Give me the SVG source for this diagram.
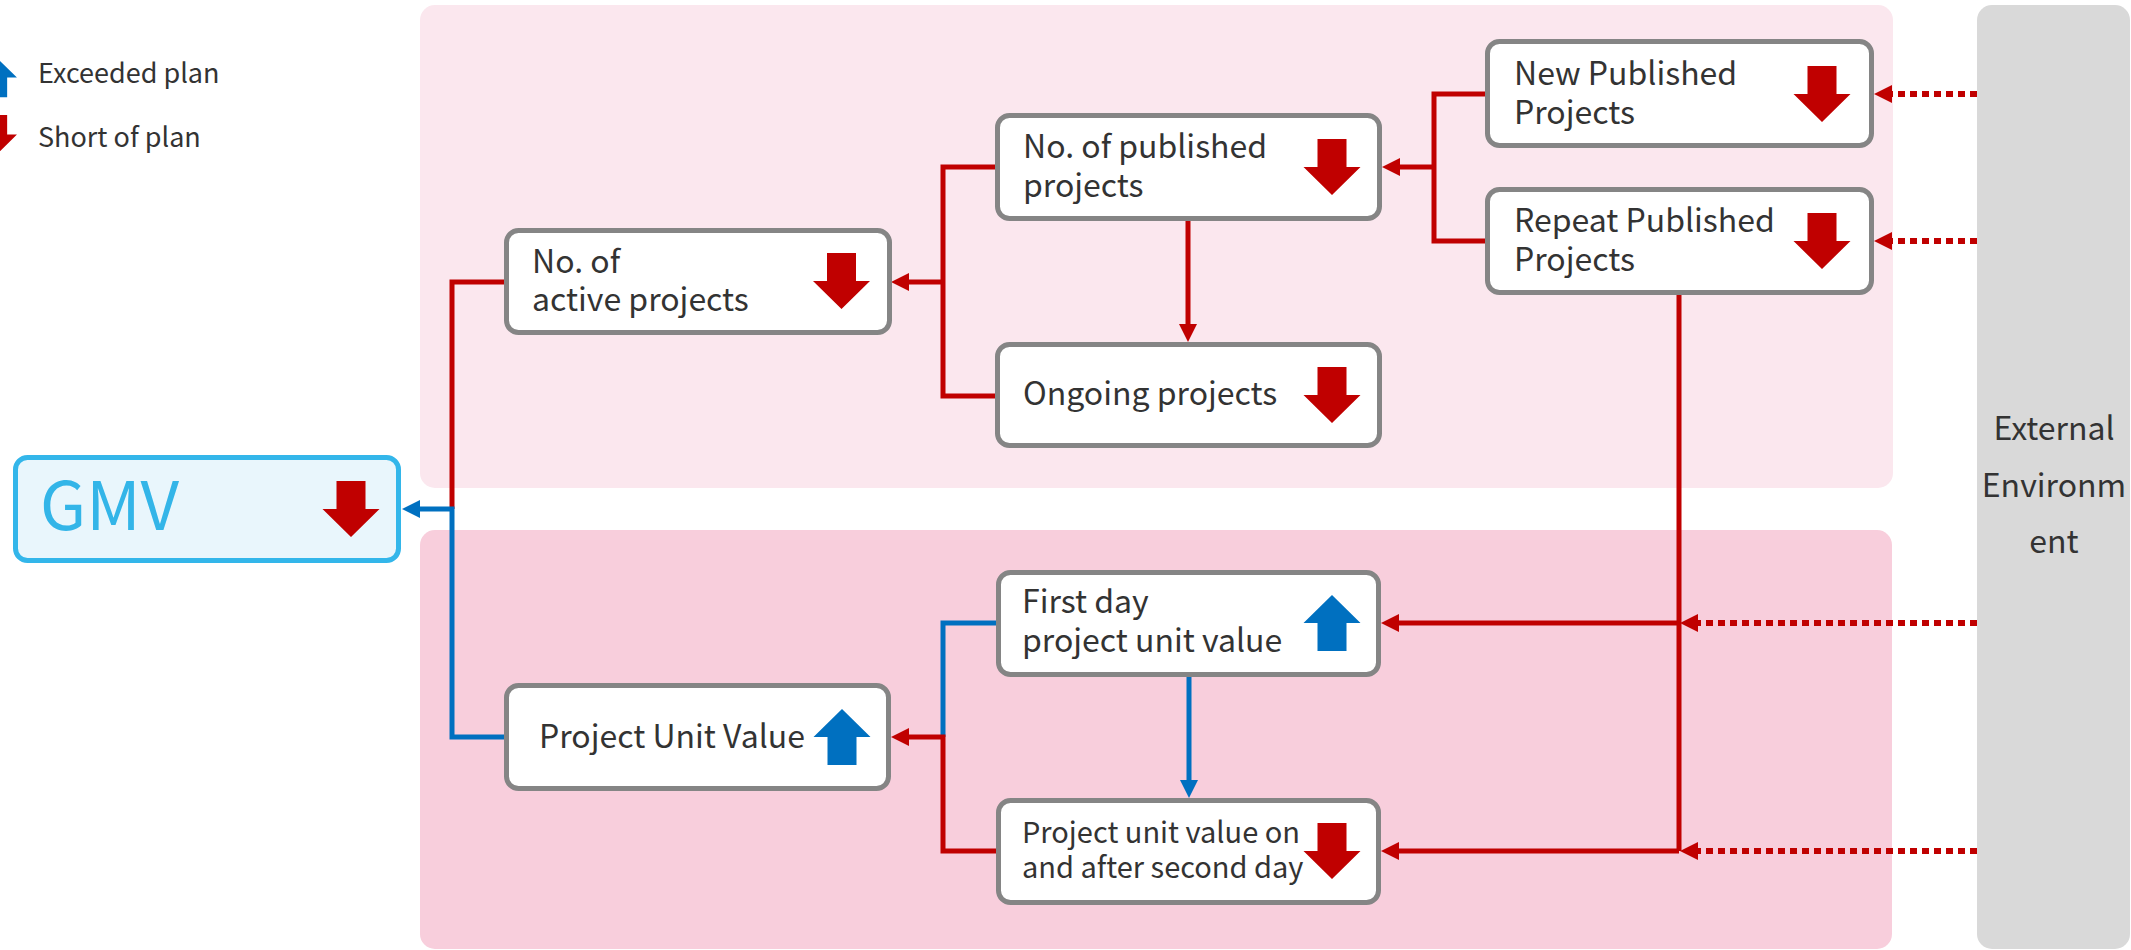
<svg xmlns="http://www.w3.org/2000/svg" width="2131" height="950" viewBox="0 0 2131 950">
<style>
.panel1{fill:#fbe7ee}
.panel2{fill:#f8cedc}
.ext{fill:#d9d9d9}
.box{fill:#fff;stroke:#858585;stroke-width:5}
.gmv{fill:#e9f6fc;stroke:#33b6ea;stroke-width:5}
.t{font-family:"Noto Sans CJK JP","Source Sans Pro","Liberation Sans",sans-serif;font-size:32px;fill:#333}
.t2{font-size:29px}
.lg{font-size:27px}
.gt{font-family:"Noto Sans CJK JP","Liberation Sans",sans-serif;font-size:67px;fill:#33b5e8}
.r{fill:none;stroke:#c00000;stroke-width:5}
.b{fill:none;stroke:#0070c0;stroke-width:5}
.d{fill:none;stroke:#c00000;stroke-width:6;stroke-dasharray:7 5}
.down{fill:#c00000}
.up{fill:#0070c0}
</style>
<defs>
<marker id="ar" markerUnits="userSpaceOnUse" markerWidth="20" markerHeight="20" refX="8" refY="9" orient="auto"><path d="M0,0 L18,9 L0,18 Z" fill="#c00000"/></marker>
<marker id="ab" markerUnits="userSpaceOnUse" markerWidth="20" markerHeight="20" refX="8" refY="9" orient="auto"><path d="M0,0 L18,9 L0,18 Z" fill="#0070c0"/></marker>
<path id="dn" d="M-14.5,0 H14.5 V28 H28.5 L0,56 L-28.5,28 H-14.5 Z"/>
<path id="upa" d="M-14.5,56 H14.5 V28 H28.5 L0,0 L-28.5,28 H-14.5 Z"/>
</defs>

<g id="panels">
<rect class="panel1" x="420" y="5" width="1473" height="483" rx="15"/>
<rect class="panel2" x="420" y="530" width="1472" height="419" rx="15"/>
</g>

<g id="external">
<rect class="ext" x="1977" y="5" width="153" height="944" rx="15"/>
<text class="t" text-anchor="middle"><tspan x="2054" y="440">External</tspan><tspan x="2054" y="497">Environm</tspan><tspan x="2054" y="553">ent</tspan></text>
</g>

<g id="legend">
<use href="#upa" class="up" transform="translate(-3,58) scale(0.7)"/>
<text class="t lg" x="38" y="83">Exceeded plan</text>
<use href="#dn" class="down" transform="translate(-3,115) scale(0.7)"/>
<text class="t lg" x="38" y="147">Short of plan</text>
</g>

<g id="connectors">
<path class="r" d="M505,282 H452 V509"/>
<path class="b" d="M504,737 H452 V509 H412" marker-end="url(#ab)"/>
<path class="r" d="M995,167 H943 V396 H995"/>
<path class="r" d="M943,282 H901" marker-end="url(#ar)"/>
<path class="r" d="M1188,221 V332" marker-end="url(#ar)"/>
<path class="r" d="M1486,94 H1434 V241 H1486"/>
<path class="r" d="M1434,167 H1392" marker-end="url(#ar)"/>
<path class="d" d="M1977,94 H1884" marker-end="url(#ar)"/>
<path class="d" d="M1977,241 H1884" marker-end="url(#ar)"/>
<path class="r" d="M1679,295 V851"/>
<path class="r" d="M1679,623 H1391" marker-end="url(#ar)"/>
<path class="r" d="M1679,851 H1391" marker-end="url(#ar)"/>
<path class="d" d="M1977,623 H1690" marker-end="url(#ar)"/>
<path class="d" d="M1977,851 H1690" marker-end="url(#ar)"/>
<path class="b" d="M996,623 H943 V737"/>
<path class="r" d="M996,851 H943 V737 H901" marker-end="url(#ar)"/>
<path class="b" d="M1189,677 V788" marker-end="url(#ab)"/>
</g>

<g id="gmv">
<rect class="gmv" x="15.5" y="457.5" width="383" height="103" rx="12"/>
<text class="gt" x="40" y="530">GMV</text>
<use href="#dn" class="down" x="351" y="481"/>
</g>

<g id="active">
<rect class="box" x="506.5" y="230.5" width="383" height="102" rx="12"/>
<text class="t"><tspan x="532" y="273">No. of</tspan><tspan x="532" y="311">active projects</tspan></text>
<use href="#dn" class="down" x="841.5" y="253"/>
</g>

<g id="published">
<rect class="box" x="997.5" y="115.5" width="382" height="103" rx="12"/>
<text class="t"><tspan x="1023" y="158">No. of published</tspan><tspan x="1023" y="197">projects</tspan></text>
<use href="#dn" class="down" x="1332" y="139"/>
</g>

<g id="ongoing">
<rect class="box" x="997.5" y="344.5" width="382" height="101" rx="12"/>
<text class="t" x="1023" y="405">Ongoing projects</text>
<use href="#dn" class="down" x="1332" y="367"/>
</g>

<g id="new">
<rect class="box" x="1487.5" y="41.5" width="384" height="104" rx="12"/>
<text class="t"><tspan x="1514" y="85">New Published</tspan><tspan x="1514" y="124">Projects</tspan></text>
<use href="#dn" class="down" x="1822" y="66"/>
</g>

<g id="repeat">
<rect class="box" x="1487.5" y="189.5" width="384" height="103" rx="12"/>
<text class="t"><tspan x="1514" y="232">Repeat Published</tspan><tspan x="1514" y="271">Projects</tspan></text>
<use href="#dn" class="down" x="1822" y="213"/>
</g>

<g id="puv">
<rect class="box" x="506.5" y="685.5" width="382" height="103" rx="12"/>
<text class="t" x="539" y="748">Project Unit Value</text>
<use href="#upa" class="up" x="842" y="709"/>
</g>

<g id="firstday">
<rect class="box" x="998.5" y="572.5" width="380" height="102" rx="12"/>
<text class="t"><tspan x="1022" y="613">First day</tspan><tspan x="1022" y="652">project unit value</tspan></text>
<use href="#upa" class="up" x="1332" y="595"/>
</g>

<g id="secondday">
<rect class="box" x="998.5" y="800.5" width="380" height="102" rx="12"/>
<text class="t t2"><tspan x="1022" y="843">Project unit value on</tspan><tspan x="1022" y="878">and after second day</tspan></text>
<use href="#dn" class="down" x="1332" y="823"/>
</g>
</svg>
